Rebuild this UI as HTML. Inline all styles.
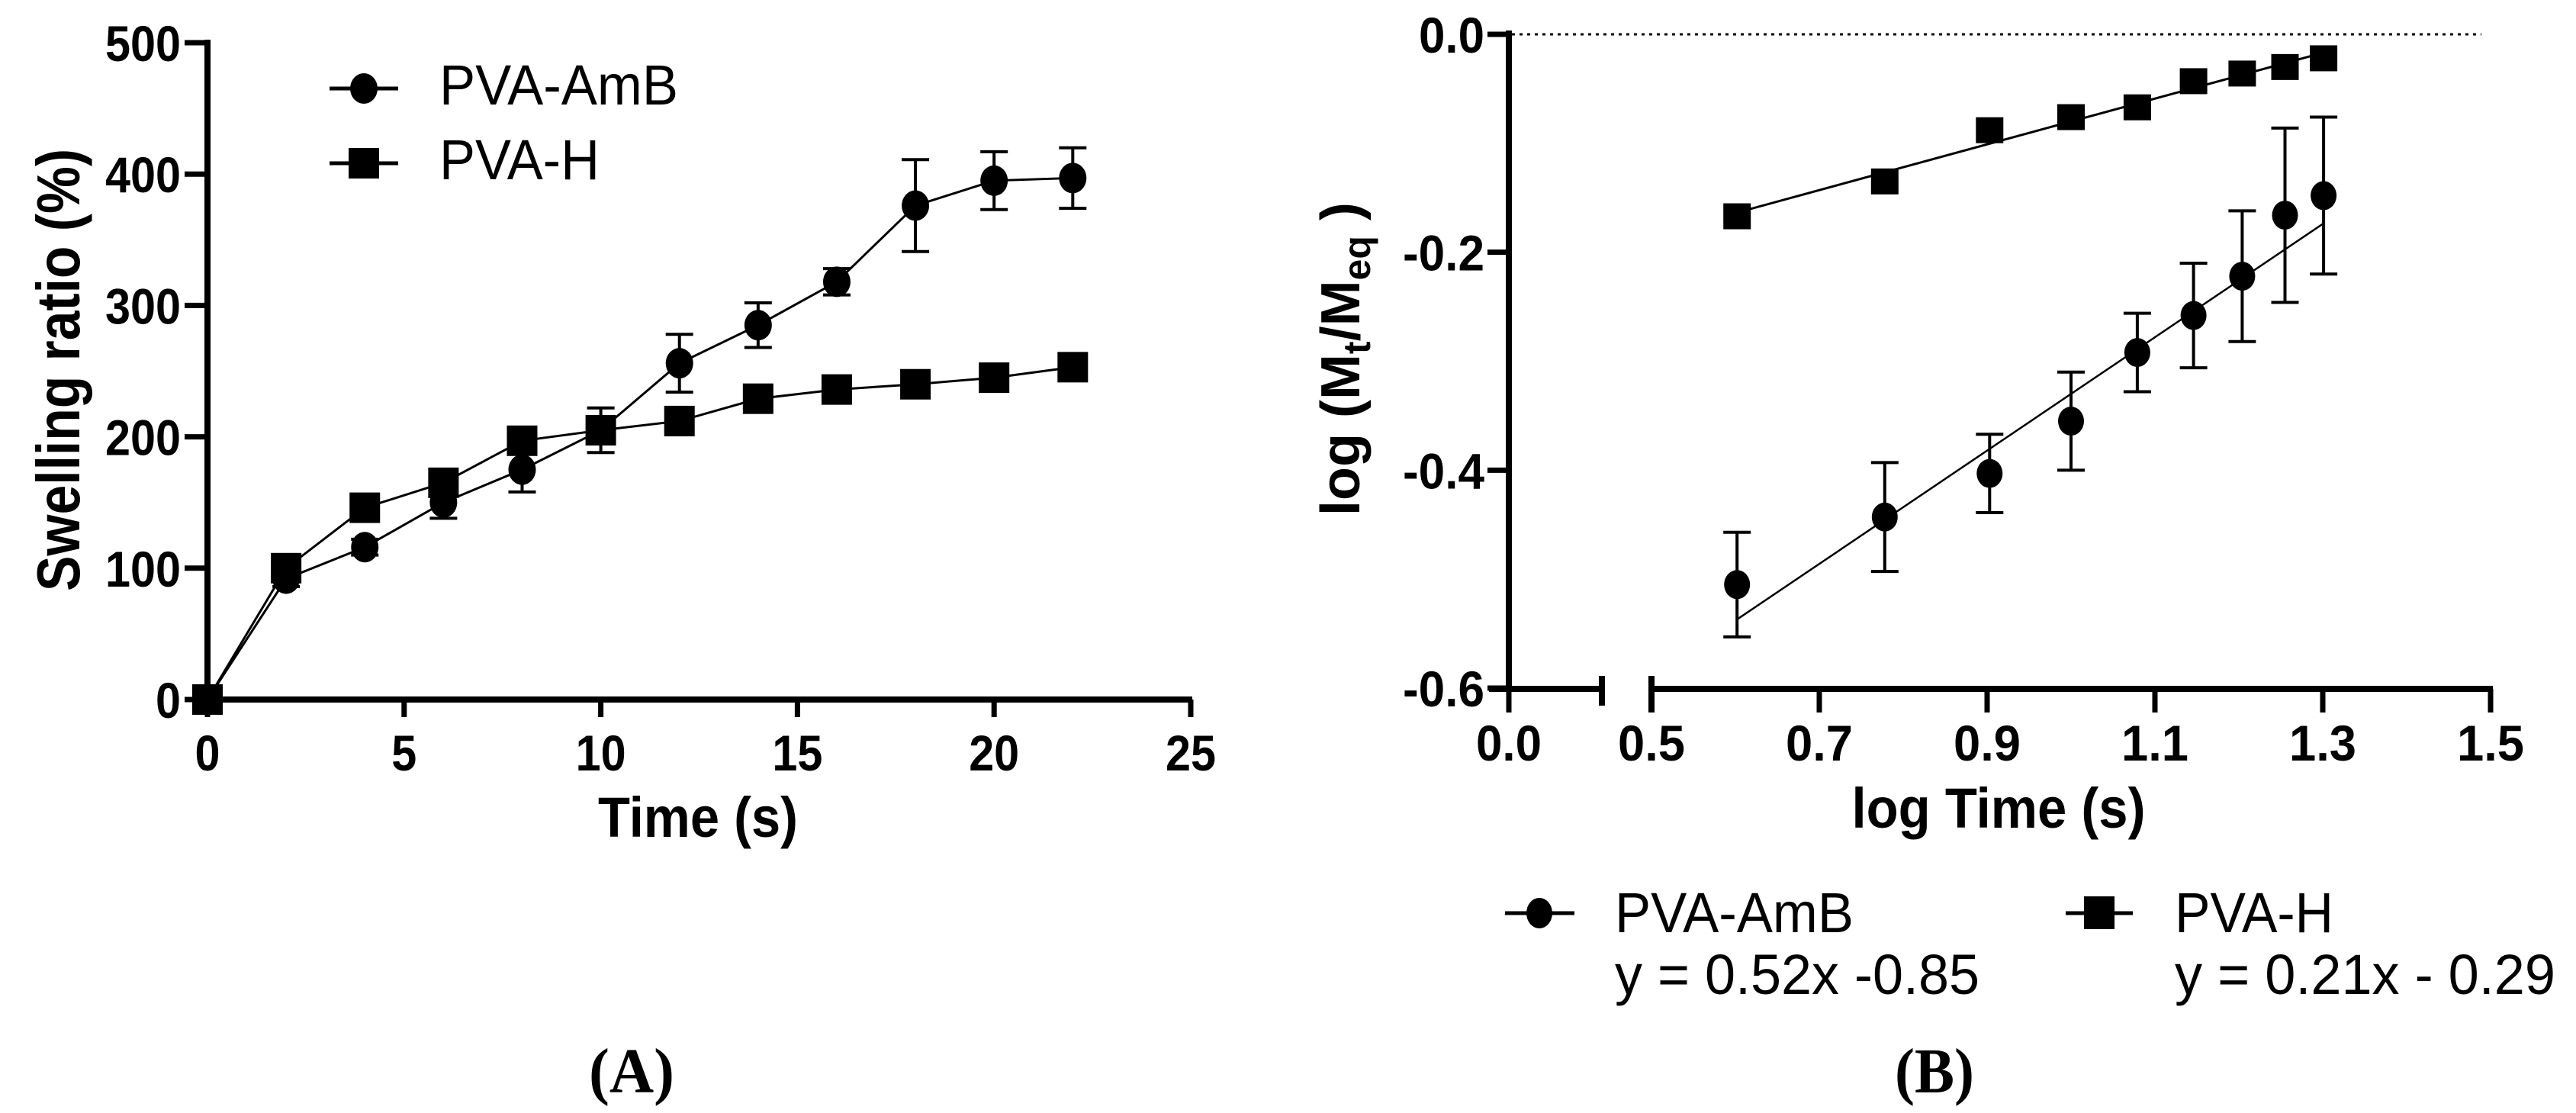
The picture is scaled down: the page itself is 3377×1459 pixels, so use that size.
<!DOCTYPE html>
<html><head><meta charset="utf-8"><style>html,body{margin:0;padding:0;background:#fff}svg{display:block}</style></head>
<body>
<svg id="fig" width="3377" height="1459" viewBox="0 0 3377 1459" xmlns="http://www.w3.org/2000/svg" font-family="Liberation Sans, Arial, sans-serif">
<g id="pa"></g>
<g id="pb"></g>
<text x="828" y="1432" font-family="Liberation Serif, serif" font-weight="bold" font-size="84" text-anchor="middle" textLength="112" lengthAdjust="spacingAndGlyphs">(A)</text>
<text x="2536" y="1432" font-family="Liberation Serif, serif" font-weight="bold" font-size="84" text-anchor="middle" textLength="104" lengthAdjust="spacingAndGlyphs">(B)</text>
</svg>
<script>
// Panel A data
const timeA = [0,2,4,6,8,10,12,14,16,18,20,22];
const amb = [0,92,116,150,175,205,256,285,318,376,395,397];
const ambErr = [0,6,6,12,17,17,22,17,10,35,22,23];
const pvah = [0,100,146,165,197,205,212,229,236,240,245,253];
const xTicksA = [0,5,10,15,20,25];
const yTicksA = [0,100,200,300,400,500];
// Panel B data
const logT = [0.602,0.778,0.903,1.0,1.079,1.146,1.204,1.255,1.301];
const ambLog = [-0.505,-0.443,-0.403,-0.355,-0.292,-0.258,-0.222,-0.166,-0.148];
const ambLogErr = [0.048,0.05,0.036,0.045,0.036,0.048,0.06,0.08,0.072];
const pvahLog = [-0.167,-0.135,-0.088,-0.076,-0.067,-0.043,-0.036,-0.030,-0.022];
const fitAmb = [0.52,-0.85];
const fitH = [0.21,-0.29];
const xTicksB = [0.5,0.7,0.9,1.1,1.3,1.5];
const yTicksB = [0.0,-0.2,-0.4,-0.6];

const NS='http://www.w3.org/2000/svg';
function mk(parent,tag,attrs,text){const e=document.createElementNS(NS,tag);for(const k in attrs)e.setAttribute(k,attrs[k]);if(text!==undefined)e.textContent=text;parent.appendChild(e);return e;}

// ---- Panel A ----
const pa=document.getElementById('pa');
const xA=v=>272+v*(1561-272)/25;
const yA=v=>917-v*(917-56)/500;
let e;
e=mk(pa,'line',{x1:272,y1:52,x2:272,y2:921,stroke:'#000','stroke-width':8});

e=mk(pa,'line',{x1:268,y1:917,x2:1563,y2:917,stroke:'#000','stroke-width':8});

yTicksA.forEach(t=>{
  mk(pa,'line',{x1:242,y1:yA(t),x2:272,y2:yA(t),stroke:'#000','stroke-width':7});
  e=mk(pa,'text',{x:237,y:yA(t)+24,'font-size':66,'font-weight':'bold','text-anchor':'end',textLength:String(t).length*33,lengthAdjust:'spacingAndGlyphs'},String(t));
  
});
xTicksA.forEach(t=>{
  mk(pa,'line',{x1:xA(t),y1:917,x2:xA(t),y2:940,stroke:'#000','stroke-width':7});
  e=mk(pa,'text',{x:xA(t),y:1010,'font-size':66,'font-weight':'bold','text-anchor':'middle',textLength:String(t).length*33,lengthAdjust:'spacingAndGlyphs'},String(t));
  
});
e=mk(pa,'text',{x:915,y:1097,'font-size':74,'font-weight':'bold','text-anchor':'middle',textLength:262,lengthAdjust:'spacingAndGlyphs'},'Time (s)');

e=mk(pa,'text',{x:0,y:0,'font-size':80,'font-weight':'bold','text-anchor':'middle',transform:'translate(104,485) rotate(-90)',textLength:580,lengthAdjust:'spacingAndGlyphs'},'Swelling ratio (%)');

// series lines
e=mk(pa,'polyline',{points:timeA.map((t,i)=>xA(t)+','+yA(amb[i])).join(' '),fill:'none',stroke:'#000','stroke-width':3});

e=mk(pa,'polyline',{points:timeA.map((t,i)=>xA(t)+','+yA(pvah[i])).join(' '),fill:'none',stroke:'#000','stroke-width':3});

timeA.forEach((t,i)=>{
  const x=xA(t);
  if(ambErr[i]>0){
    const y1=yA(amb[i]+ambErr[i]),y2=yA(amb[i]-ambErr[i]);
    e=mk(pa,'path',{d:`M${x},${y1}V${y2}M${x-18},${y1}H${x+18}M${x-18},${y2}H${x+18}`,stroke:'#000','stroke-width':4,fill:'none'});
    
  }
  e=mk(pa,'rect',{x:x-20,y:yA(pvah[i])-20,width:40,height:40,fill:'#000'});
  
  e=mk(pa,'ellipse',{cx:x,cy:yA(amb[i]),rx:18,ry:20,fill:'#000'});
  
});
// legend A
e=mk(pa,'g',{});
mk(e,'line',{x1:432,y1:116,x2:522,y2:116,stroke:'#000','stroke-width':5});
mk(e,'ellipse',{cx:477,cy:116,rx:18,ry:20,fill:'#000'});
mk(e,'text',{x:576,y:137,'font-size':74,textLength:313,lengthAdjust:'spacingAndGlyphs'},'PVA-AmB');
e=mk(pa,'g',{});
mk(e,'line',{x1:432,y1:214,x2:522,y2:214,stroke:'#000','stroke-width':5});
mk(e,'rect',{x:457,y:194,width:40,height:40,fill:'#000'});
mk(e,'text',{x:576,y:235,'font-size':74,textLength:210,lengthAdjust:'spacingAndGlyphs'},'PVA-H');

// ---- Panel B ----
const pb=document.getElementById('pb');
const xB=v=>2165+(v-0.5)*1100;
const yB=v=>45+(-v)*(902-45)/0.6;
e=mk(pb,'line',{x1:1978,y1:40,x2:1978,y2:907,stroke:'#000','stroke-width':8});

e=mk(pb,'path',{d:'M1952,903H2100M2100,886V925',stroke:'#000','stroke-width':8,fill:'none'});

e=mk(pb,'path',{d:`M2165,886V934M2165,903H${xB(1.5)+3}`,stroke:'#000','stroke-width':8,fill:'none'});

mk(pb,'line',{x1:1978,y1:903,x2:1978,y2:934,stroke:'#000','stroke-width':7});
e=mk(pb,'text',{x:1978,y:997,'font-size':66,'font-weight':'bold','text-anchor':'middle',textLength:86,lengthAdjust:'spacingAndGlyphs'},'0.0');

e=mk(pb,'line',{x1:1982,y1:45,x2:xB(1.5)-12,y2:45,stroke:'#000','stroke-width':3,'stroke-dasharray':'4 6'});

yTicksB.forEach(t=>{
  mk(pb,'line',{x1:1950,y1:yB(t),x2:1978,y2:yB(t),stroke:'#000','stroke-width':7});
  e=mk(pb,'text',{x:1946,y:yB(t)+24,'font-size':66,'font-weight':'bold','text-anchor':'end',textLength:t===0?86:107,lengthAdjust:'spacingAndGlyphs'},t.toFixed(1));
  
});
xTicksB.forEach(t=>{
  mk(pb,'line',{x1:xB(t),y1:903,x2:xB(t),y2:934,stroke:'#000','stroke-width':7});
  e=mk(pb,'text',{x:xB(t),y:997,'font-size':66,'font-weight':'bold','text-anchor':'middle',textLength:88,lengthAdjust:'spacingAndGlyphs'},t.toFixed(1));
  
});
e=mk(pb,'text',{x:2620,y:1085,'font-size':74,'font-weight':'bold','text-anchor':'middle',textLength:385,lengthAdjust:'spacingAndGlyphs'},'log Time (s)');

e=mk(pb,'text',{x:0,y:0,'font-size':72,'font-weight':'bold',transform:'translate(1782,676) rotate(-90)'});

mk(e,'tspan',{},'log (M');
mk(e,'tspan',{'font-size':50,dy:14},'t');
mk(e,'tspan',{dy:-14},'/M');
mk(e,'tspan',{'font-size':50,dy:14},'eq');
mk(e,'tspan',{dy:-14},' )');
// fit lines
e=mk(pb,'line',{x1:xB(logT[0]),y1:yB(fitAmb[0]*logT[0]+fitAmb[1]),x2:xB(logT[8]),y2:yB(fitAmb[0]*logT[8]+fitAmb[1]),stroke:'#000','stroke-width':2.5});

e=mk(pb,'line',{x1:xB(logT[0]),y1:yB(fitH[0]*logT[0]+fitH[1]),x2:xB(logT[8]),y2:yB(fitH[0]*logT[8]+fitH[1]),stroke:'#000','stroke-width':3});

logT.forEach((t,i)=>{
  const x=xB(t);
  const y1=yB(ambLog[i]+ambLogErr[i]),y2=yB(ambLog[i]-ambLogErr[i]);
  e=mk(pb,'path',{d:`M${x},${y1}V${y2}M${x-18},${y1}H${x+18}M${x-18},${y2}H${x+18}`,stroke:'#000','stroke-width':4,fill:'none'});
  
  e=mk(pb,'ellipse',{cx:x,cy:yB(ambLog[i]),rx:17,ry:19,fill:'#000'});
  
  e=mk(pb,'rect',{x:x-18,y:yB(pvahLog[i])-17,width:36,height:34,fill:'#000'});
  
});
// legend B
e=mk(pb,'g',{});
mk(e,'line',{x1:1973,y1:1197,x2:2064,y2:1197,stroke:'#000','stroke-width':5});
mk(e,'ellipse',{cx:2018,cy:1197,rx:17,ry:20,fill:'#000'});
mk(e,'text',{x:2117,y:1222,'font-size':74,textLength:313,lengthAdjust:'spacingAndGlyphs'},'PVA-AmB');
mk(e,'text',{x:2117,y:1303,'font-size':74,textLength:478,lengthAdjust:'spacingAndGlyphs'},'y = 0.52x -0.85');
e=mk(pb,'g',{});
mk(e,'line',{x1:2708,y1:1197,x2:2796,y2:1197,stroke:'#000','stroke-width':5});
mk(e,'rect',{x:2732,y:1175,width:40,height:43,fill:'#000'});
mk(e,'text',{x:2851,y:1222,'font-size':74,textLength:208,lengthAdjust:'spacingAndGlyphs'},'PVA-H');
mk(e,'text',{x:2851,y:1303,'font-size':74,textLength:499,lengthAdjust:'spacingAndGlyphs'},'y = 0.21x - 0.29');
</script>
</body></html>
